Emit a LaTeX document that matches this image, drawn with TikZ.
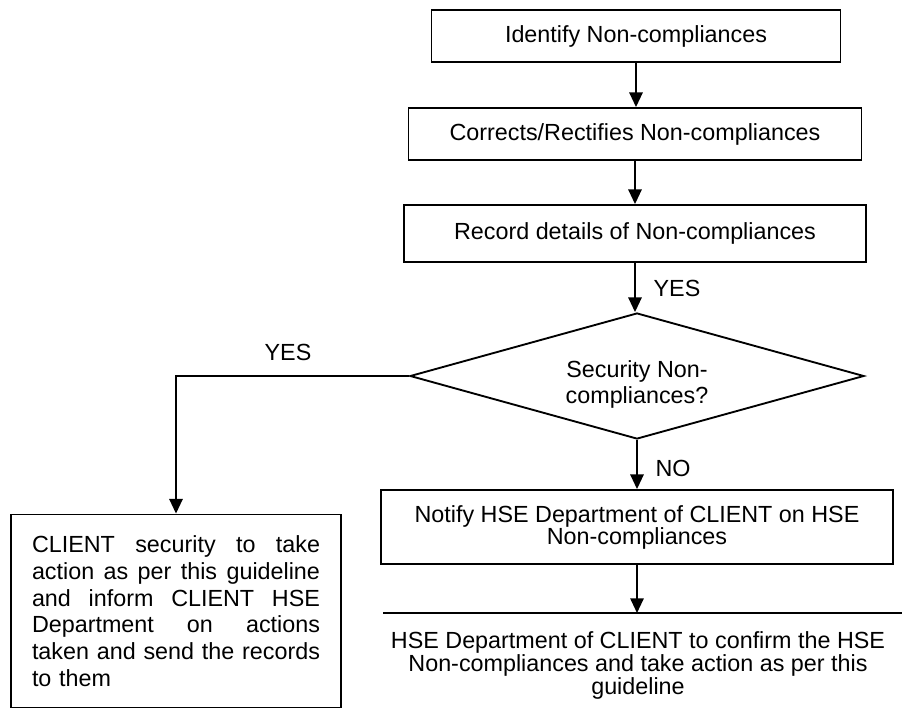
\documentclass[tikz,border=0pt]{standalone}
\usepackage{fontspec}
\setmainfont{Liberation Sans}
\usetikzlibrary{shapes.geometric,arrows.meta}
\newcommand{\justline}[1]{\makebox[216pt][l]{#1}}
\begin{document}
\begin{tikzpicture}[x=0.75pt,y=-0.75pt,
  txt/.style={font=\fontsize{17.5}{17.5}\selectfont},
  box/.style={txt,draw,line width=1.4pt,inner sep=0pt,align=center},
  arr/.style={line width=1.4pt,-{Triangle[length=11pt,width=10pt]}},
  lbl/.style={txt,inner sep=0pt}]
\useasboundingbox (0,0) rectangle (902,715);
\node[box,minimum width=306.75pt,minimum height=39pt] (b1) at (636,36) {Identify Non-compliances};
\node[box,minimum width=339.75pt,minimum height=39pt] (b2) at (635,134) {Corrects/Rectifies Non-compliances};
\node[box,minimum width=346.5pt,minimum height=42.75pt] (b3) at (635,233.5) {Record details of Non-compliances};
\node[diamond,draw,line width=1.4pt,minimum width=340.5pt,minimum height=94.5pt,inner sep=0pt] (dia) at (637,376) {};
\node[lbl,align=center,font=\fontsize{17.5}{19.5}\selectfont] (diat) at (637,384) {Security Non-\\compliances?};
\node[box,minimum width=384pt,minimum height=55.5pt,font=\fontsize{17.5}{16.5}\selectfont] (b4) at (637,527) {Notify HSE Department of CLIENT on HSE\\Non-compliances};
\node[box,minimum width=247.5pt,minimum height=144.75pt,align=left,text width=216pt,font=\fontsize{17.5}{20}\selectfont] (lb) at (176,611)
{\justline{CLIENT\hfill security\hfill to\hfill take}\\
 \justline{action\hfill as\hfill per\hfill this\hfill guideline}\\
 \justline{and\hfill inform\hfill CLIENT\hfill HSE}\\
 \justline{Department\hfill on\hfill actions}\\
 \justline{taken\hfill and\hfill send\hfill the\hfill records}\\
 to them};
\coordinate (bl) at (383,613);
\coordinate (br) at (902,613);
\draw[line width=1.4pt] (bl) -- (br);
\node[lbl,align=center,anchor=north] (bt) at (638,631) {HSE Department of CLIENT to confirm the HSE\\Non-compliances and take action as per this\\guideline};
\draw[arr] (b1.south) -- (b1.south |- b2.north);
\draw[arr] (b2.south) -- (b2.south |- b3.north);
\draw[arr] (b3.south) -- (b3.south |- dia.north);
\draw[arr] (dia.south) -- (dia.south |- b4.north);
\draw[arr] (b4.south) -- (b4.south |- bl);
\draw[arr] (dia.west) -- (dia.west -| lb.north) -- (lb.north);
\node[lbl] (y1) at (677,288) {YES};
\node[lbl] (y2) at (288,352) {YES};
\node[lbl] (n1) at (673,468) {NO};
\end{tikzpicture}
\end{document}
